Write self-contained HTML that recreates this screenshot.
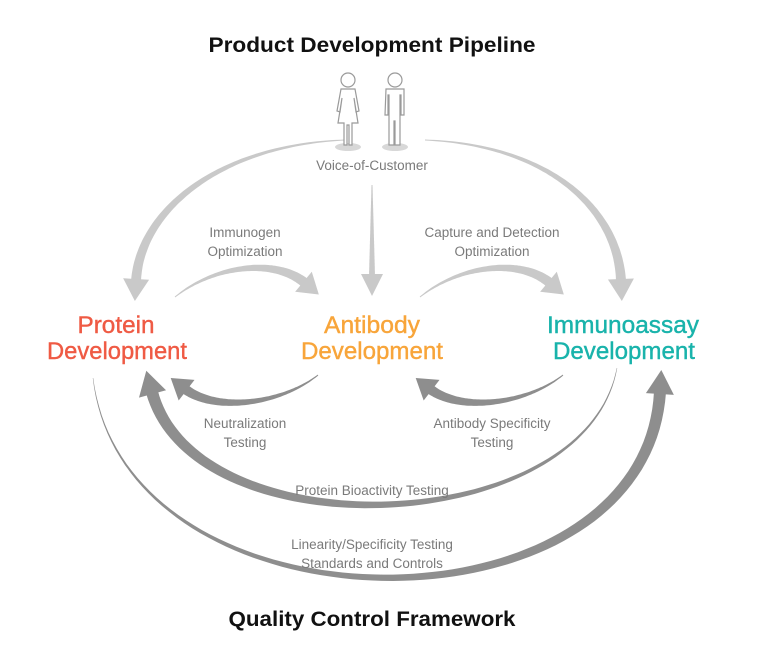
<!DOCTYPE html>
<html><head><meta charset="utf-8"><style>
html,body{margin:0;padding:0;background:#fff;}
svg{display:block;}
text{font-family:"Liberation Sans",sans-serif;}
.t{font-weight:bold;font-size:21px;fill:#111;}
.n{font-size:24px;stroke-width:0.4;}
.s{font-size:13.5px;fill:#7a7a7a;}
</style></head><body>
<svg id="s" width="763" height="669" viewBox="0 0 763 669" xmlns="http://www.w3.org/2000/svg">
<g id="arrows"></g>
<g fill="#fff" stroke="#9a9a9a" stroke-width="1.2">
<ellipse cx="348" cy="147" rx="13" ry="4" fill="#d8d8d8" stroke="none"/>
<ellipse cx="395" cy="147" rx="13" ry="4" fill="#d8d8d8" stroke="none"/>
<circle cx="348" cy="80" r="7"/>
<path d="M341 89 h14 l4 22 l-3 1 l-2 -14 l4 25 h-6 v22 h-3 v-20 h-2 v20 h-3 v-22 h-6 l4 -25 l-2 14 l-3 -1 z"/>
<circle cx="395" cy="80" r="7"/>
<path d="M386 89 h18 v26 h-3 v-20 h-1 v50 h-5 v-24 h-1 v24 h-5 v-50 h-1 v20 h-3 z"/>
</g>
<text class="t" x="372" y="52" text-anchor="middle" textLength="327" lengthAdjust="spacingAndGlyphs">Product Development Pipeline</text>
<text class="t" x="372" y="626" text-anchor="middle" textLength="287" lengthAdjust="spacingAndGlyphs">Quality Control Framework</text>
<text class="n" fill="#ef5a44" stroke="#ef5a44" x="116" y="333" text-anchor="middle" textLength="77" lengthAdjust="spacingAndGlyphs">Protein</text>
<text class="n" fill="#ef5a44" stroke="#ef5a44" x="117" y="359" text-anchor="middle" textLength="140" lengthAdjust="spacingAndGlyphs">Development</text>
<text class="n" fill="#f8a53a" stroke="#f8a53a" x="372" y="333" text-anchor="middle" textLength="96" lengthAdjust="spacingAndGlyphs">Antibody</text>
<text class="n" fill="#f8a53a" stroke="#f8a53a" x="372" y="359" text-anchor="middle" textLength="142" lengthAdjust="spacingAndGlyphs">Development</text>
<text class="n" fill="#19b3ab" stroke="#19b3ab" x="623" y="333" text-anchor="middle" textLength="152" lengthAdjust="spacingAndGlyphs">Immunoassay</text>
<text class="n" fill="#19b3ab" stroke="#19b3ab" x="624" y="359" text-anchor="middle" textLength="142" lengthAdjust="spacingAndGlyphs">Development</text>
<g text-anchor="middle">
<text class="s" x="372" y="170">Voice-of-Customer</text>
<text class="s" x="245" y="237">Immunogen</text>
<text class="s" x="245" y="256">Optimization</text>
<text class="s" x="492" y="237">Capture and Detection</text>
<text class="s" x="492" y="256">Optimization</text>
<text class="s" x="245" y="428">Neutralization</text>
<text class="s" x="245" y="447">Testing</text>
<text class="s" x="492" y="428">Antibody Specificity</text>
<text class="s" x="492" y="447">Testing</text>
<text class="s" x="372" y="495">Protein Bioactivity Testing</text>
<text class="s" x="372" y="549">Linearity/Specificity Testing</text>
<text class="s" x="372" y="568">Standards and Controls</text>
</g>
</svg>
<script>
function arrow(p0,c1,c2,p3,w0,w1,hl,hw,col){
 var N=80,L=[],R=[];
 function pt(t){var u=1-t;return[u*u*u*p0[0]+3*u*u*t*c1[0]+3*u*t*t*c2[0]+t*t*t*p3[0],u*u*u*p0[1]+3*u*u*t*c1[1]+3*u*t*t*c2[1]+t*t*t*p3[1]];}
 function d(t){var u=1-t;return[3*u*u*(c1[0]-p0[0])+6*u*t*(c2[0]-c1[0])+3*t*t*(p3[0]-c2[0]),3*u*u*(c1[1]-p0[1])+6*u*t*(c2[1]-c1[1])+3*t*t*(p3[1]-c2[1])];}
 for(var i=0;i<=N;i++){var t=i/N,p=pt(t),v=d(t),m=Math.hypot(v[0],v[1])||1,nx=-v[1]/m,ny=v[0]/m,w=(w0+(w1-w0)*t)/2;
  L.push((p[0]+nx*w).toFixed(1)+","+(p[1]+ny*w).toFixed(1));R.unshift((p[0]-nx*w).toFixed(1)+","+(p[1]-ny*w).toFixed(1));}
 var v=d(1),m=Math.hypot(v[0],v[1]),ux=v[0]/m,uy=v[1]/m,nx=-uy,ny=ux;
 var b=[p3[0]-ux*2,p3[1]-uy*2];
 var head=[(b[0]+nx*hw/2)+","+(b[1]+ny*hw/2),(p3[0]+ux*hl)+","+(p3[1]+uy*hl),(b[0]-nx*hw/2)+","+(b[1]-ny*hw/2)];
 var g=document.getElementById("arrows");
 var a=document.createElementNS("http://www.w3.org/2000/svg","polygon");a.setAttribute("points",L.concat(R).join(" "));a.setAttribute("fill",col);g.appendChild(a);
 var h=document.createElementNS("http://www.w3.org/2000/svg","polygon");h.setAttribute("points",head.join(" "));h.setAttribute("fill",col);g.appendChild(h);
}
var lg="#c9c9c9",dg="#8e8e8e";
arrow([345,140],[220,145],[140,210],[136,281],1,10,20,26,lg);
arrow([425,140],[550,145],[618,210],[621,281],1,10,20,26,lg);
arrow([372,185],[372,215],[372,245],[372,276],1,6,20,22,lg);
arrow([175,297],[215,265],[275,258],[305,283],1,10,18,26,lg);
arrow([420,297],[460,265],[520,258],[550,283],1,10,18,26,lg);
arrow([318,375],[280,405],[215,412],[185,389],1,10,18,26,dg);
arrow([563,375],[525,405],[460,412],[430,389],1,10,18,26,dg);
arrow([617,368],[585,540],[195,552],[152,392],0.5,12,22,28,dg);
arrow([93,378],[125,642],[645,642],[660,392],0.5,12,22,28,dg);
</script>
</body></html>
